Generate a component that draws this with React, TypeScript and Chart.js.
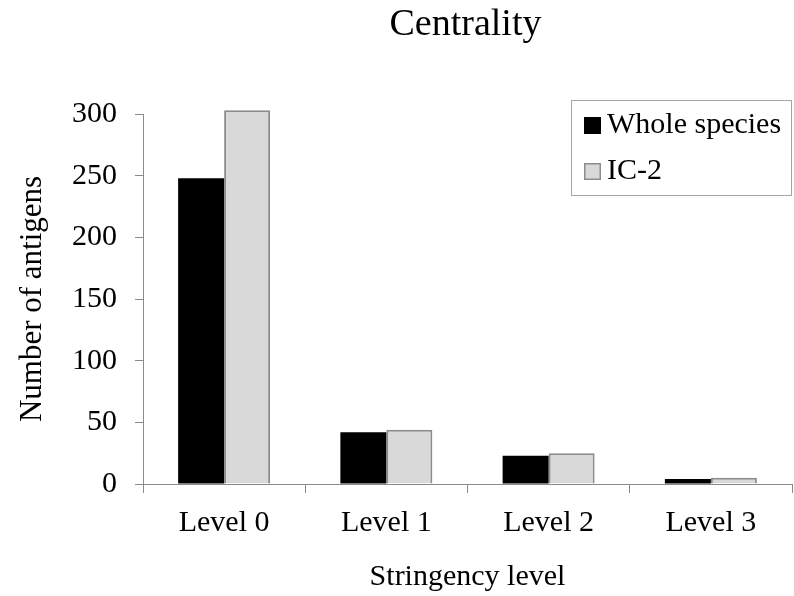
import React, { useEffect, useRef } from "react";
import { Chart, registerables } from "chart.js";

Chart.register(...registerables);

const TITLE = "Centrality";
const X_TITLE = "Stringency level";
const Y_TITLE = "Number of antigens";
const categories = ["Level 0", "Level 1", "Level 2", "Level 3"];
const seriesNames = ["Whole species", "IC-2"];
const wholeSpecies = [248, 42, 23, 4];
const ic2 = [303, 44, 25, 5];
const yMin = 0;
const yMax = 300;
const yStep = 50;

const FONT = "'Liberation Serif', 'Times New Roman', serif";
const AXIS_GREY = "#8a8a8a";

const overlayPlugin = {
  id: "overlay",
  afterDraw(chart: any) {
    const ctx = chart.ctx;
    const area = chart.chartArea;
    ctx.save();
    // title
    ctx.fillStyle = "#000";
    ctx.font = `38px ${FONT}`;
    ctx.textAlign = "center";
    ctx.textBaseline = "alphabetic";
    ctx.fillText(TITLE, (area.left + area.right) / 2 - 2, 35);

    // legend box
    const bx = 571.5, by = 100.5, bw = 220, bh = 95;
    ctx.strokeStyle = "#a6a6a6";
    ctx.lineWidth = 1;
    ctx.strokeRect(bx, by, bw, bh);
    const rows = [125, 171];
    chart.data.datasets.forEach((ds: any, i: number) => {
      const cy = rows[i];
      ctx.fillStyle = ds.backgroundColor;
      ctx.fillRect(584, cy - 8, 17, 17);
      if (ds.borderWidth) {
        ctx.strokeStyle = ds.borderColor;
        ctx.lineWidth = 1.5;
        ctx.strokeRect(584.75, cy - 7.25, 15.5, 15.5);
      }
      ctx.fillStyle = "#000";
      ctx.font = `30px ${FONT}`;
      ctx.textAlign = "left";
      ctx.textBaseline = "middle";
      ctx.fillText(ds.label, 607, cy);
    });
    ctx.restore();
  },
};

export default function App() {
  const ref = useRef<HTMLCanvasElement | null>(null);
  useEffect(() => {
    document.body.style.margin = "0";
    const canvas = ref.current;
    if (!canvas) return;
    const chart = new Chart(canvas, {
      type: "bar",
      data: {
        labels: categories,
        datasets: [
          {
            label: seriesNames[0],
            data: wholeSpecies,
            backgroundColor: "#000000",
            borderWidth: 0,
            categoryPercentage: 0.567,
            barPercentage: 1,
            clip: false as any,
          },
          {
            label: seriesNames[1],
            data: ic2,
            backgroundColor: "#d9d9d9",
            borderColor: "#8c8c8c",
            borderWidth: 2,
            categoryPercentage: 0.567,
            barPercentage: 1,
            clip: false as any,
          },
        ],
      },
      options: {
        responsive: false,
        animation: false,
        devicePixelRatio: 1,
        layout: { padding: { top: 114, right: 2, left: 0, bottom: 0 } },
        plugins: {
          legend: { display: false },
          title: { display: false },
          tooltip: { enabled: false },
        },
        scales: {
          x: {
            afterFit(scale: any) {
              scale.height = 112;
            },
            grid: {
              display: true,
              offset: true,
              drawOnChartArea: false,
              drawTicks: true,
              tickLength: 9,
              color: AXIS_GREY,
            },
            border: { display: true, color: AXIS_GREY, width: 1 },
            ticks: {
              color: "#000",
              padding: 12,
              font: { family: FONT, size: 30 },
              maxRotation: 0,
            },
            title: {
              display: true,
              text: X_TITLE,
              color: "#000",
              font: { family: FONT, size: 30 },
              padding: { top: 0, bottom: 1 },
            },
          },
          y: {
            min: yMin,
            max: yMax,
            afterFit(scale: any) {
              scale.width = 143;
            },
            grid: {
              display: true,
              drawOnChartArea: false,
              drawTicks: true,
              tickLength: 8,
              color: AXIS_GREY,
            },
            border: { display: true, color: AXIS_GREY, width: 1 },
            ticks: {
              stepSize: yStep,
              color: "#000",
              padding: 18,
              font: { family: FONT, size: 30 },
            },
            title: {
              display: true,
              text: Y_TITLE,
              color: "#000",
              font: { family: FONT, size: 31 },
              padding: { top: 14, bottom: 0 },
            },
          },
        },
      },
      plugins: [overlayPlugin],
    });
    return () => chart.destroy();
  }, []);
  return (
    <div style={{ position: "fixed", left: 0, top: 0, width: 794, height: 596, background: "#fff" }}>
      <canvas ref={ref} width={794} height={596} style={{ display: "block", width: 794, height: 596 }} />
    </div>
  );
}
